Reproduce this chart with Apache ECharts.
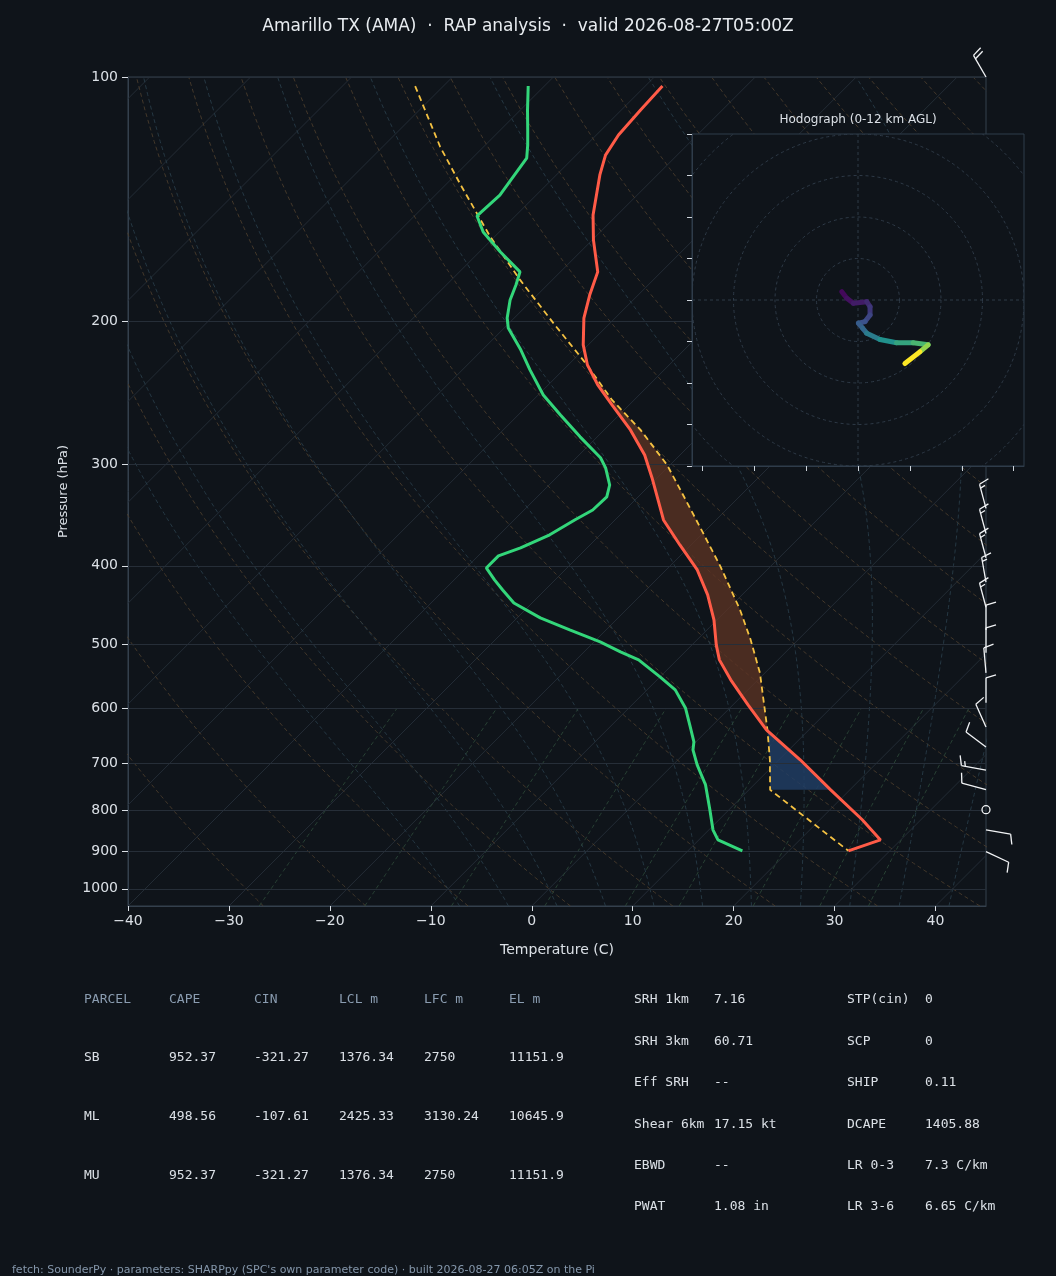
<!DOCTYPE html>
<html>
<head>
<meta charset="utf-8">
<script src="https://cdn.jsdelivr.net/npm/echarts@6/dist/echarts.min.js"></script>
<style>html,body{margin:0;padding:0;background:#0f141a;}#container{width:1056px;height:1276px;}</style>
</head>
<body>
<div id="container"></div>
<script>
// sounding values (hPa / degC)
var tempP = [102.6,109.8,117.9,124.8,132.0,147.9,158.7,173.8,185.6,198.1,213.8,226.3,239.5,253.5,272.1,292.2,311.8,351.3,377.1,404.8,434.5,466.4,500.6,522.4,552.8,593.6,637.2,693.5,755.2,822.2,870.6,897.9];
var tempT = [-68.3,-68.1,-67.8,-67.1,-65.7,-62.4,-59.9,-56.3,-54.8,-53.1,-50.5,-48.1,-45.1,-41.7,-37.4,-33.5,-30.5,-25.2,-21.1,-16.9,-13.4,-10.3,-7.6,-5.8,-2.7,1.5,5.8,12.1,18.1,24.2,28.0,25.9];
var dewP = [102.6,109.8,116.2,121.3,125.9,139.8,148.3,155.2,164.3,173.8,180.4,188.2,198.1,203.8,216.8,229.5,246.4,260.9,277.5,294.5,303.0,318.1,329.1,341.5,351.3,366.4,380.2,388.9,402.5,416.4,428.4,444.5,463.8,479.8,496.3,510.6,522.4,548.2,568.8,598.7,628.1,659.2,674.3,703.6,744.5,799.0,845.9,870.6,897.9];
var dewT = [-81.6,-79.3,-77.3,-75.8,-74.6,-73.6,-73.8,-71.6,-67.9,-64.0,-63.1,-62.2,-60.7,-59.6,-56.2,-53.3,-49.5,-45.8,-41.7,-37.6,-36.1,-34.0,-33.1,-33.2,-34.0,-35.0,-36.6,-38.0,-38.0,-36.0,-34.2,-31.8,-27.7,-23.6,-19.4,-16.4,-13.8,-10.0,-7.2,-4.4,-2.3,-0.2,0.5,2.4,5.2,8.1,10.4,11.9,15.4];
var parcelP = [102.6,121.9,135.8,157.4,177.8,202.0,225.0,249.9,272.1,300.5,322.6,358.3,401.2,453.4,493.4,542.0,637.2,693.5,755.2,897.9];
var parcelT = [-92.8,-84.3,-78.5,-70.4,-63.2,-55.3,-48.5,-42.2,-36.4,-30.3,-26.5,-20.9,-14.9,-8.7,-4.7,-0.5,5.9,9.1,12.1,25.9];
var pressureTicks = [100,200,300,400,500,600,700,800,900,1000];

// hodograph (kt), with height AGL in km
var hodoU = [-3.9,-2.7,-1.1,2.1,2.9,2.9,1.7,0.1,1.1,2.1,5.3,9.3,13.3,16.9,14.9,11.3];
var hodoV = [2.0,0.4,-0.8,-0.4,-1.6,-3.6,-5.2,-5.6,-6.8,-8.0,-9.5,-10.3,-10.3,-10.8,-12.5,-15.3];
var hodoH = [0,0.3,0.6,1,1.5,2,2.5,3,3.5,4,5,6,7,8,10,12];

// wind barbs
var barbP = [100,302,340,365,391,419,450,480,512,542,590,632,669,714,755,799,846,900];
var barbDir = [330,340,345,345,345,350,345,0,0,355,0,336,307,280,285,0,100,115];
var barbSpd = [20,20,15,15,15,15,15,10,10,10,10,10,10,15,10,0,10,10];

// parameter table
var parcelHeader = ['PARCEL','CAPE','CIN','LCL m','LFC m','EL m'];
var parcelRows = [
	['SB','952.37','-321.27','1376.34','2750','11151.9'],
	['ML','498.56','-107.61','2425.33','3130.24','10645.9'],
	['MU','952.37','-321.27','1376.34','2750','11151.9']
];
var paramNames1 = ['SRH 1km','SRH 3km','Eff SRH','Shear 6km','EBWD','PWAT'];
var paramVals1 = ['7.16','60.71','--','17.15 kt','--','1.08 in'];
var paramNames2 = ['STP(cin)','SCP','SHIP','DCAPE','LR 0-3','LR 3-6'];
var paramVals2 = ['0','0','0.11','1405.88','7.3 C/km','6.65 C/km'];

var SKEW = 80.44;
function sx(T, p){ return T + SKEW * Math.log10(1050 / p); }
function profile(P, T){
	var out = [];
	for(var i=0;i<P.length;i++){ out.push([sx(T[i], P[i]), P[i]]); }
	return out;
}

// background reference lines
var bgSeries = [];
function bgLine(pts, color, dashed){
	bgSeries.push({type:'line', xAxisIndex:0, yAxisIndex:0, data:pts, showSymbol:false, silent:true, z:1,
		lineStyle:{color:color, width:0.9, type: dashed ? [4,3] : 'solid'}, animation:false});
}
for(var t=-130;t<=40;t+=10){
	bgLine([[sx(t,1050),1050],[sx(t,100),100]], '#262f39', false);
}
for(var th=243.15;th<=473.15;th+=10){
	var pts = [];
	for(var p=1050;p>=100;p-=10){ pts.push([sx(th*Math.pow(p/1000,0.2857)-273.15,p),p]); }
	bgLine(pts, '#4a3c2c', true);
}
function moistLapse(T, p){
	var Rd=287.04, Cp=1005.7, Lv=2.501e6, eps=0.622;
	var es = 6.112*Math.exp(17.67*(T-273.15)/(T-29.65));
	var rs = eps*es/(p-es);
	return (Rd*T + Lv*rs)/(p*(Cp + Lv*Lv*rs*eps/(Rd*T*T)));
}
for(var t0=-10;t0<=40;t0+=5){
	var up = [], T = t0+273.15, pp;
	for(pp=1000;pp>=100;pp-=5){ up.push([sx(T-273.15,pp),pp]); T += moistLapse(T,pp)*(-5); }
	T = t0+273.15;
	var down = [];
	for(pp=1000;pp<=1050;pp+=5){ down.unshift([sx(T-273.15,pp),pp]); T += moistLapse(T,pp)*5; }
	bgLine(down.concat(up), '#283c48', true);
}
[0.4,1,2,4,7,10,16,24,32].forEach(function(w){
	var pts = [];
	for(var p=1050;p>=600;p-=10){
		var e = (w/1000)*p/(0.622+w/1000), l = Math.log(e/6.112);
		pts.push([sx(243.5*l/(17.67-l),p),p]);
	}
	bgLine(pts, '#2b4638', true);
});

var tempPts = profile(tempP, tempT);
var dewPts = profile(dewP, dewT);
var parcelPts = profile(parcelP, parcelT);

function between(P, T, lo, hi){
	var out = [];
	for(var i=0;i<P.length;i++){ if(P[i]>=lo && P[i]<=hi) out.push([sx(T[i],P[i]),P[i]]); }
	return out;
}
var capePoly = between(parcelP, parcelT, 225, 637.2).concat(between(tempP, tempT, 225, 637.2).reverse());
var cinPoly = between(parcelP, parcelT, 637.2, 755.2).concat(between(tempP, tempT, 637.2, 755.2).reverse());

function polySeries(poly, color){
	return {type:'custom', xAxisIndex:0, yAxisIndex:0, data:[[poly[0][0], poly[0][1]]], silent:true, z:3, animation:false,
		renderItem:function(params, api){
			var pts = poly.map(function(d){ return api.coord(d); });
			return {type:'polygon', shape:{points:pts}, style:{fill:color}};
		}};
}

var viridis = [[68,1,84],[59,82,139],[33,145,140],[94,201,98],[253,231,37]];
function vcol(f){
	f = Math.max(0, Math.min(1, f)) * 4;
	var i = Math.min(3, Math.floor(f)), r = f - i, a = viridis[i], b = viridis[i+1];
	return 'rgb(' + Math.round(a[0]+(b[0]-a[0])*r) + ',' + Math.round(a[1]+(b[1]-a[1])*r) + ',' + Math.round(a[2]+(b[2]-a[2])*r) + ')';
}
var hodoData = [];
for(var i=0;i<hodoU.length;i++){ hodoData.push([hodoU[i], hodoV[i], hodoH[i]]); }

var barbData = [];
for(var i=0;i<barbP.length;i++){ barbData.push([45, barbP[i], barbDir[i], barbSpd[i]]); }

var textColor = '#dbe0e6';
var graphics = [
	{type:'rect', shape:{x:692, y:134, width:332, height:332}, style:{fill:'#0f141a'}, z:50, silent:true},
	{type:'text', x:858, y:120, style:{text:'Hodograph (0-12 km AGL)', fill:textColor, font:'12px "DejaVu Sans"', textAlign:'center', textVerticalAlign:'middle'}, z:60},
	{type:'text', x:528, y:27, style:{text:'Amarillo TX (AMA)  \u00b7  RAP analysis  \u00b7  valid 2026-08-27T05:00Z', fill:'#e8ecf0', font:'17px "DejaVu Sans"', textAlign:'center', textVerticalAlign:'middle'}},
	{type:'text', x:12, y:1270, style:{text:"fetch: SounderPy \u00b7 parameters: SHARPpy (SPC's own parameter code) \u00b7 built 2026-08-27 06:05Z on the Pi", fill:'#8496aa', font:'11px "DejaVu Sans"', textVerticalAlign:'middle'}}
];
var mono = '13px "DejaVu Sans Mono"';
var colX = [84,169,254,339,424,509];
parcelHeader.forEach(function(h, c){
	graphics.push({type:'text', x:colX[c], y:1000, style:{text:h, fill:'#8a9cb0', font:mono, textVerticalAlign:'middle'}});
});
parcelRows.forEach(function(row, r){
	row.forEach(function(v, c){
		graphics.push({type:'text', x:colX[c], y:1058 + r*59, style:{text:v, fill:textColor, font:mono, textVerticalAlign:'middle'}});
	});
});
for(var r=0;r<paramNames1.length;r++){
	var yy = 1000 + r*41.4;
	graphics.push({type:'text', x:634, y:yy, style:{text:paramNames1[r], fill:textColor, font:mono, textVerticalAlign:'middle'}});
	graphics.push({type:'text', x:714, y:yy, style:{text:paramVals1[r], fill:textColor, font:mono, textVerticalAlign:'middle'}});
	graphics.push({type:'text', x:847, y:yy, style:{text:paramNames2[r], fill:textColor, font:mono, textVerticalAlign:'middle'}});
	graphics.push({type:'text', x:925, y:yy, style:{text:paramVals2[r], fill:textColor, font:mono, textVerticalAlign:'middle'}});
}

var option = {
	backgroundColor:'#0f141a',
	animation:false,
	textStyle:{fontFamily:'DejaVu Sans'},
	grid:[
		{left:128, top:77, width:858, height:829, show:true, borderColor:'#34404d', borderWidth:1, backgroundColor:'transparent'},
		{left:692, top:134, width:332, height:332, show:true, borderColor:'#2f3c4a', borderWidth:1, backgroundColor:'transparent', z:60}
	],
	xAxis:[
		{type:'value', gridIndex:0, min:-40, max:45, interval:10,
			name:'Temperature (C)', nameLocation:'middle', nameGap:37, nameTextStyle:{color:textColor, fontSize:14},
			axisLine:{onZero:false, lineStyle:{color:'#34404d'}},
			axisTick:{length:5, lineStyle:{color:textColor}},
			axisLabel:{color:textColor, fontSize:14, margin:8, showMaxLabel:false, formatter:function(v){ return v===45 ? '' : String(v).replace('-','\u2212'); }},
			splitLine:{show:false}},
		{type:'value', gridIndex:1, min:-40, max:40, z:60,
			axisLine:{onZero:false, lineStyle:{color:'#2f3c4a'}},
			axisTick:{length:5, inside:false, customValues:[-37.5,-25,-12.5,0,12.5,25,37.5], lineStyle:{color:'#cfd5dc'}},
			axisLabel:{show:false}, splitLine:{show:false}}
	],
	yAxis:[
		{type:'log', gridIndex:0, logBase:10, min:100, max:1050, inverse:true,
			name:'Pressure (hPa)', nameLocation:'middle', nameGap:58, nameRotate:90, nameTextStyle:{color:textColor, fontSize:13},
			axisLine:{onZero:false, lineStyle:{color:'#34404d'}},
			axisTick:{length:6, customValues:pressureTicks, lineStyle:{color:textColor}},
			axisLabel:{color:textColor, fontSize:14, margin:10, customValues:pressureTicks, formatter:function(v){ return String(Math.round(v)); }},
			splitLine:{show:false}},
		{type:'value', gridIndex:1, min:-40, max:40, interval:10, z:60,
			axisLine:{onZero:false, lineStyle:{color:'#2f3c4a'}},
			axisTick:{length:5, lineStyle:{color:'#cfd5dc'}},
			axisLabel:{show:false}, splitLine:{show:false}}
	],
	graphic:{elements:graphics},
	series: bgSeries.concat([
		{type:'line', xAxisIndex:0, yAxisIndex:0, data:[], silent:true, z:1,
			markLine:{silent:true, symbol:'none', label:{show:false}, lineStyle:{color:'#262e38', width:1, type:'solid'},
				data: pressureTicks.map(function(p){ return {yAxis:p}; })}},
		polySeries(capePoly, 'rgba(95,52,36,0.75)'),
		polySeries(cinPoly, 'rgba(33,62,102,0.8)'),
		{type:'line', xAxisIndex:0, yAxisIndex:0, data:parcelPts, showSymbol:false, z:5,
			lineStyle:{color:'#f5c242', width:1.8, type:[6,4]}},
		{type:'line', xAxisIndex:0, yAxisIndex:0, data:tempPts, showSymbol:false, z:6,
			lineStyle:{color:'#ff5b47', width:3}},
		{type:'line', xAxisIndex:0, yAxisIndex:0, data:dewPts, showSymbol:false, z:6,
			lineStyle:{color:'#33d67a', width:3}},
		{type:'custom', xAxisIndex:0, yAxisIndex:0, data:barbData, clip:false, z:7,
			renderItem:function(params, api){
				var base = api.coord([api.value(0), api.value(1)]);
				var dir = api.value(2) * Math.PI/180, spd = api.value(3), L = 25;
				var st = {stroke:'#f2f4f6', lineWidth:1.3, fill:'none'};
				if(spd < 2){
					return {type:'circle', shape:{cx:base[0], cy:base[1], r:4}, style:st};
				}
				var ux = Math.sin(dir), uy = -Math.cos(dir);
				var tip = [base[0]+ux*L, base[1]+uy*L];
				var px = -uy, py = ux;
				var kids = [{type:'line', shape:{x1:base[0], y1:base[1], x2:tip[0], y2:tip[1]}, style:st}];
				var full = Math.floor(spd/10), half = (spd % 10) >= 5 ? 1 : 0, pos = 0;
				for(var k=0;k<full;k++){
					var s = [tip[0]-ux*pos*4, tip[1]-uy*pos*4];
					kids.push({type:'line', shape:{x1:s[0], y1:s[1], x2:s[0]+px*10+ux*3, y2:s[1]+py*10+uy*3}, style:st});
					pos++;
				}
				if(half){
					if(pos===0) pos = 1;
					var s2 = [tip[0]-ux*pos*4, tip[1]-uy*pos*4];
					kids.push({type:'line', shape:{x1:s2[0], y1:s2[1], x2:s2[0]+px*5+ux*1.5, y2:s2[1]+py*5+uy*1.5}, style:st});
				}
				return {type:'group', children:kids};
			}},
		{type:'custom', xAxisIndex:1, yAxisIndex:1, data:[[10],[20],[30],[40],[50],[60]], clip:true, z:60,
			renderItem:function(params, api){
				var c = api.coord([0,0]);
				var r = api.size([api.value(0),0])[0];
				var st = {stroke:'#2e3a47', lineWidth:1, fill:'none', lineDash:[3,3]};
				var kids = [{type:'circle', shape:{cx:c[0], cy:c[1], r:r}, style:st}];
				if(params.dataIndex===0){
					var a = api.coord([-40,0]), b = api.coord([40,0]), d = api.coord([0,40]), e = api.coord([0,-40]);
					kids.push({type:'line', shape:{x1:a[0], y1:a[1], x2:b[0], y2:b[1]}, style:st});
					kids.push({type:'line', shape:{x1:d[0], y1:d[1], x2:e[0], y2:e[1]}, style:st});
				}
				return {type:'group', children:kids};
			}},
		{type:'custom', xAxisIndex:1, yAxisIndex:1, data:hodoData, clip:true, z:61,
			renderItem:function(params, api){
				var i = params.dataIndex;
				if(i===0) return null;
				var a = api.coord([hodoData[i-1][0], hodoData[i-1][1]]);
				var b = api.coord([api.value(0), api.value(1)]);
				return {type:'line', shape:{x1:a[0], y1:a[1], x2:b[0], y2:b[1]},
					style:{stroke:vcol(api.value(2)/12), lineWidth:5, lineCap:'round'}};
			}}
	])
};
var chart = echarts.init(document.getElementById('container'));
chart.setOption(option);
</script>
</body>
</html>
